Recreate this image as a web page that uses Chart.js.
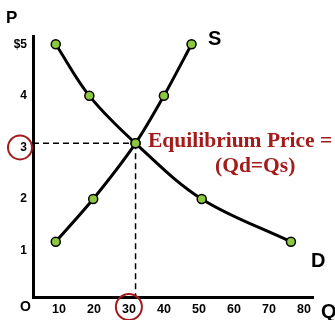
<!DOCTYPE html>
<html>
<head>
<meta charset="utf-8">
<script src="https://cdn.jsdelivr.net/npm/chart.js@4.4.0/dist/chart.umd.min.js"></script>
<style>
  body { margin: 0; background: #fff; }
  #wrap { width: 335px; height: 320px; }
</style>
</head>
<body>
<div id="wrap"><canvas id="chart" width="335" height="320"></canvas></div>
<script>
// valores
const demandQ = [9.1, 18.7, 31.9, 50.8, 76.3];
const demandP = [5, 4, 3.08, 2, 1.17];
const supplyQ = [9.1, 19.8, 31.9, 40, 47.9];
const supplyP = [1.17, 2, 3.08, 4, 5];
const qTicks = [10, 20, 30, 40, 50, 60, 70, 80];
const pTicks = [1, 2, 3, 4, 5];
const eqQ = 31.9;
const eqP = 3.08;
const qMin = 2.6, qMax = 82.6;
const pMin = 0.1, pMax = 5.16;

const red = '#a31b1b';
const green = '#8dc63f';

const toPoints = (xs, ys) => xs.map((x, i) => ({ x: x, y: ys[i] }));

// textos e círculos vermelhos
const annotations = {
    id: 'annotations',
    afterDraw(chart) {
        const ctx = chart.ctx;
        const xs = chart.scales.x;
        const ys = chart.scales.y;
        ctx.save();
        ctx.fillStyle = '#000';
        ctx.textBaseline = 'alphabetic';
        ctx.textAlign = 'left';
        ctx.font = 'bold 17px "Liberation Sans", Arial';
        ctx.fillText('P', 6, 23);
        ctx.font = 'bold 20px "Liberation Sans", Arial';
        ctx.fillText('S', 208, 45);
        ctx.fillText('D', 311, 267);
        ctx.fillText('Q', 321, 318);
        ctx.font = 'bold 14px "Liberation Sans", Arial';
        ctx.fillText('O', 20, 311);

        ctx.fillStyle = red;
        ctx.font = 'bold 21.5px "Liberation Serif", "Times New Roman", serif';
        ctx.fillText('Equilibrium Price =', 148, 147);
        ctx.fillText('(Qd=Qs)', 215, 172);

        ctx.strokeStyle = red;
        ctx.lineWidth = 2;
        ctx.beginPath();
        ctx.arc(20, ys.getPixelForValue(3), 12, 0, Math.PI * 2);
        ctx.stroke();
        ctx.beginPath();
        ctx.arc(xs.getPixelForValue(30), 307, 13, 0, Math.PI * 2);
        ctx.stroke();
        ctx.restore();
    }
};

new Chart(document.getElementById('chart'), {
    type: 'line',
    data: {
        datasets: [
            {
                data: toPoints(demandQ, demandP),
                borderColor: '#000',
                borderWidth: 3,
                tension: 0.35,
                pointRadius: 4.5,
                pointBackgroundColor: green,
                pointBorderColor: '#000',
                pointBorderWidth: 1.5,
                order: 1
            },
            {
                data: toPoints(supplyQ, supplyP),
                borderColor: '#000',
                borderWidth: 3,
                tension: 0.25,
                pointRadius: 4.5,
                pointBackgroundColor: green,
                pointBorderColor: '#000',
                pointBorderWidth: 1.5,
                order: 1
            },
            {
                data: [{ x: qMin, y: eqP }, { x: eqQ, y: eqP }],
                borderColor: '#000',
                borderWidth: 1.5,
                borderDash: [6, 4],
                pointRadius: 0,
                order: 2
            },
            {
                data: [{ x: eqQ, y: eqP }, { x: eqQ, y: pMin }],
                borderColor: '#000',
                borderWidth: 1.5,
                borderDash: [6, 4],
                pointRadius: 0,
                order: 2
            }
        ]
    },
    options: {
        responsive: false,
        animation: false,
        devicePixelRatio: 1,
        layout: { padding: { top: 36, right: 22, left: 0, bottom: 0 } },
        plugins: {
            legend: { display: false },
            tooltip: { enabled: false }
        },
        scales: {
            x: {
                type: 'linear',
                min: qMin,
                max: qMax,
                afterBuildTicks: scale => { scale.ticks = qTicks.map(v => ({ value: v })); },
                afterFit: scale => { scale.height = 23; },
                grid: { display: false, drawTicks: false },
                border: { display: true, color: '#000', width: 3 },
                ticks: {
                    color: '#000',
                    padding: 5,
                    maxRotation: 0,
                    autoSkip: false,
                    font: { family: '"Liberation Sans", Arial', size: 12.5, weight: 'bold' }
                }
            },
            y: {
                type: 'linear',
                min: pMin,
                max: pMax,
                afterBuildTicks: scale => { scale.ticks = pTicks.map(v => ({ value: v })); },
                afterFit: scale => { scale.width = 33; },
                grid: { display: false, drawTicks: false },
                border: { display: true, color: '#000', width: 3 },
                ticks: {
                    color: '#000',
                    padding: 6,
                    autoSkip: false,
                    font: { family: '"Liberation Sans", Arial', size: 12, weight: 'bold' },
                    callback: v => v === 5 ? '$5' : String(v)
                }
            }
        }
    },
    plugins: [annotations]
});
</script>
</body>
</html>
